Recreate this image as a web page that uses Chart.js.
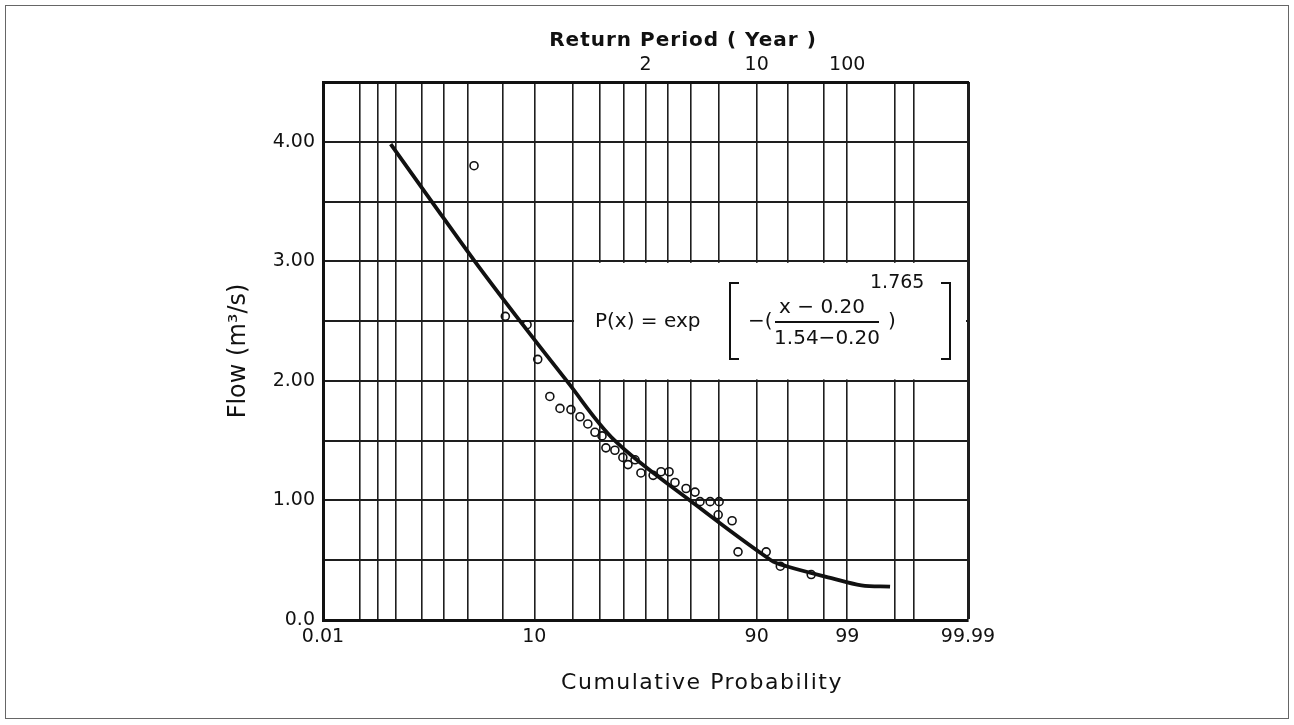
<!DOCTYPE html>
<html>
<head>
<meta charset="utf-8">
<title>Flow probability plot</title>
<script src="https://cdn.jsdelivr.net/npm/chart.js@4.4.1/dist/chart.umd.min.js"></script>
<style>
    html, body { margin: 0; padding: 0; background: #fff; }
    #wrap { position: relative; width: 1294px; height: 725px; }
    #frame { position: absolute; left: 5px; top: 5px; width: 1282px; height: 712px; border: 1px solid #666; }
    #probChart { position: absolute; left: 0; top: 0; }
</style>
</head>
<body>
<div id="wrap">
    <div id="frame"></div>
    <canvas id="probChart" width="1294" height="725"></canvas>
</div>
<script>
// Observed flows (m3/s) and their cumulative probability (%)
const obsProb = [2.4, 5.3, 8.6, 10.7, 13.5, 16.2, 19.5, 22.5, 25.3, 28.0, 30.8, 32.4, 36.2, 39.7, 42.0, 45.2,
    47.9, 53.5, 57.1, 60.7, 63.3, 68.0, 71.6, 73.5, 77.2, 80.2, 79.9, 84.1, 85.7, 91.8, 94.0, 97.2];
const obsFlow = [3.80, 2.54, 2.47, 2.18, 1.87, 1.77, 1.76, 1.70, 1.64, 1.57, 1.54, 1.44, 1.42, 1.36, 1.30, 1.34,
    1.23, 1.21, 1.24, 1.24, 1.15, 1.10, 1.07, 0.99, 0.99, 0.99, 0.88, 0.83, 0.57, 0.57, 0.45, 0.38];

// Fitted distribution curve
const fitProb = [0.165, 0.685, 2.45, 7.4, 18.2, 36.2, 69.6, 92.6, 94.8, 98.4, 99.36, 99.76];
const fitFlow = [3.98, 3.50, 3.00, 2.50, 2.00, 1.50, 1.00, 0.50, 0.45, 0.35, 0.29, 0.28];

// Probability paper: ruled lines (%) and which of them carry a label
const gridProb = [0.01, 0.05, 0.1, 0.2, 0.5, 1, 2, 5, 10, 20, 30, 40, 50, 60, 70, 80, 90, 95, 98, 99, 99.8, 99.9, 99.99];
const labelledProb = [0.01, 10, 90, 99, 99.99];
const returnPeriods = [2, 10, 100];

const ink = '#111';
const fontFamily = '"DejaVu Sans", "Noto Sans", sans-serif';

// inverse normal CDF (Acklam), used to put the x axis on normal probability paper
function probit(p) {
    const a = [-39.69683028665376, 220.9460984245205, -275.9285104469687, 138.3577518672690, -30.66479806614716, 2.506628277459239];
    const b = [-54.47609879822406, 161.5858368580409, -155.6989798598866, 66.80131188771972, -13.28068155288572];
    const c = [-0.007784894002430293, -0.3223964580411365, -2.400758277161838, -2.549732539343734, 4.374664141464968, 2.938163982698783];
    const d = [0.007784695709041462, 0.3224671290700398, 2.445134137142996, 3.754408661907416];
    const pl = 0.02425;
    let q, r;
    if (p < pl) {
        q = Math.sqrt(-2 * Math.log(p));
        return (((((c[0] * q + c[1]) * q + c[2]) * q + c[3]) * q + c[4]) * q + c[5]) / ((((d[0] * q + d[1]) * q + d[2]) * q + d[3]) * q + 1);
    }
    if (p <= 1 - pl) {
        q = p - 0.5;
        r = q * q;
        return (((((a[0] * r + a[1]) * r + a[2]) * r + a[3]) * r + a[4]) * r + a[5]) * q / (((((b[0] * r + b[1]) * r + b[2]) * r + b[3]) * r + b[4]) * r + 1);
    }
    q = Math.sqrt(-2 * Math.log(1 - p));
    return -(((((c[0] * q + c[1]) * q + c[2]) * q + c[3]) * q + c[4]) * q + c[5]) / ((((d[0] * q + d[1]) * q + d[2]) * q + d[3]) * q + 1);
}
const z = pct => probit(pct / 100);

const zMin = z(gridProb[0]);
const zMax = z(gridProb[gridProb.length - 1]);

// white box with the formula, then the free-standing titles
const paperNotes = {
    id: 'paperNotes',
    beforeDatasetsDraw(chart) {
        const { ctx, chartArea, scales } = chart;
        const bx = scales.x.getPixelForValue(z(20));
        const top = scales.y.getPixelForValue(3);
        const bottom = scales.y.getPixelForValue(2);
        ctx.save();
        ctx.fillStyle = '#fff';
        ctx.fillRect(bx + 1.5, top + 1.5, chartArea.right - bx - 3.5, bottom - top - 3);

        const ox = chartArea.left, oy = chartArea.top;
        ctx.fillStyle = ink;
        ctx.strokeStyle = ink;
        ctx.textBaseline = 'middle';
        ctx.font = '20px ' + fontFamily;
        ctx.textAlign = 'left';
        ctx.fillText('P(x) = exp', ox + 272, oy + 240);
        ctx.fillText('\u2212(', ox + 425, oy + 240);
        ctx.fillText(')', ox + 565, oy + 240);
        ctx.font = '19px ' + fontFamily;
        ctx.fillText('1.765', ox + 547, oy + 201);
        ctx.font = '20px ' + fontFamily;
        ctx.textAlign = 'center';
        ctx.fillText('x \u2212 0.20', ox + 499, oy + 226);
        ctx.fillText('1.54\u22120.20', ox + 504, oy + 257);

        ctx.lineWidth = 2;
        ctx.beginPath();
        ctx.moveTo(ox + 452, oy + 240);
        ctx.lineTo(ox + 556, oy + 240);
        // square brackets
        ctx.moveTo(ox + 416, oy + 201);
        ctx.lineTo(ox + 407, oy + 201);
        ctx.lineTo(ox + 407, oy + 277);
        ctx.lineTo(ox + 416, oy + 277);
        ctx.moveTo(ox + 618, oy + 201);
        ctx.lineTo(ox + 627, oy + 201);
        ctx.lineTo(ox + 627, oy + 277);
        ctx.lineTo(ox + 618, oy + 277);
        ctx.stroke();
        ctx.restore();
    },
    afterDraw(chart) {
        const { ctx, chartArea } = chart;
        ctx.save();
        ctx.fillStyle = ink;
        ctx.textAlign = 'center';
        ctx.textBaseline = 'middle';
        ctx.font = '22px ' + fontFamily;
        ctx.letterSpacing = '1.5px';
        ctx.fillText('Cumulative Probability', chartArea.left + 379, chartArea.bottom + 63);
        ctx.font = 'bold 20px ' + fontFamily;
        ctx.letterSpacing = '1px';
        ctx.fillText('Return Period ( Year )', chartArea.left + 360, 41);
        ctx.restore();
    }
};

const tickFont = { family: fontFamily, size: 19 };

new Chart(document.getElementById('probChart'), {
    type: 'scatter',
    data: {
        datasets: [{
            label: 'Fitted',
            data: fitProb.map((p, i) => ({ x: z(p), y: fitFlow[i] })),
            showLine: true,
            borderColor: ink,
            borderWidth: 3.8,
            pointRadius: 0,
            tension: 0.35
        }, {
            label: 'Observed',
            data: obsProb.map((p, i) => ({ x: z(p), y: obsFlow[i] })),
            showLine: false,
            pointStyle: 'circle',
            pointRadius: 4,
            pointBorderWidth: 1.6,
            pointBorderColor: ink,
            pointBackgroundColor: 'rgba(255,255,255,0)'
        }]
    },
    options: {
        responsive: false,
        animation: false,
        layout: { padding: { left: 0, right: 326, top: 0, bottom: 0 } },
        plugins: {
            legend: { display: false },
            tooltip: { enabled: false }
        },
        scales: {
            x: {
                type: 'linear',
                position: 'bottom',
                bounds: 'data',
                min: zMin,
                max: zMax,
                afterBuildTicks: scale => { scale.ticks = gridProb.map(p => ({ value: z(p) })); },
                afterFit: scale => { scale.height = 105; },
                grid: {
                    color: '#1e1e1e',
                    lineWidth: ctx => (ctx.index === gridProb.length - 1 ? 3 : 1.6),
                    drawTicks: false
                },
                border: { color: ink, width: 3 },
                ticks: {
                    autoSkip: false,
                    maxRotation: 0,
                    padding: 6,
                    color: ink,
                    font: tickFont,
                    callback: (v, i) => (labelledProb.includes(gridProb[i]) ? String(gridProb[i]) : '')
                }
            },
            xTop: {
                type: 'linear',
                position: 'top',
                bounds: 'data',
                min: zMin,
                max: zMax,
                afterBuildTicks: scale => { scale.ticks = returnPeriods.map(T => ({ value: z(100 - 100 / T) })); },
                afterFit: scale => { scale.height = 82; },
                grid: { display: false, drawTicks: false },
                border: { color: ink, width: 3 },
                ticks: {
                    autoSkip: false,
                    maxRotation: 0,
                    padding: 6,
                    color: ink,
                    font: tickFont,
                    callback: (v, i) => String(returnPeriods[i])
                }
            },
            y: {
                min: 0,
                max: 4.5,
                afterFit: scale => { scale.width = 323; },
                grid: {
                    color: '#1e1e1e',
                    lineWidth: ctx => (ctx.tick && ctx.tick.value === 4.5 ? 3 : 2),
                    drawTicks: false
                },
                border: { color: ink, width: 3 },
                ticks: {
                    stepSize: 0.5,
                    padding: 8,
                    color: ink,
                    font: tickFont,
                    callback: v => (v === 0 ? '0.0' : (v % 1 === 0 ? v.toFixed(2) : ''))
                },
                title: {
                    display: true,
                    text: 'Flow (m³/s)',
                    color: ink,
                    font: { family: fontFamily, size: 24 },
                    padding: { top: 224, bottom: 0 }
                }
            }
        }
    },
    plugins: [paperNotes]
});
</script>
</body>
</html>
